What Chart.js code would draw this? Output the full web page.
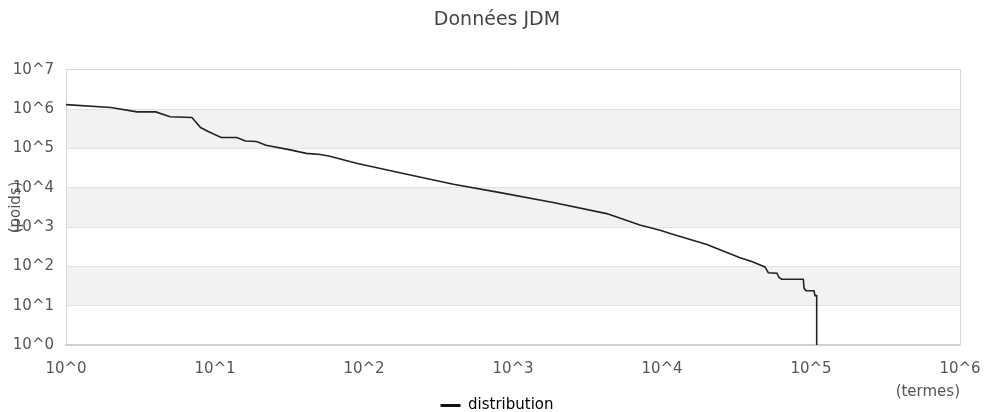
<!DOCTYPE html>
<html><head><meta charset="utf-8">
<script src="https://cdn.jsdelivr.net/npm/chart.js@4/dist/chart.umd.min.js"></script>
<style>html,body{margin:0;padding:0;background:#fff;}#wrap{width:986px;height:412px;position:relative;}</style>
</head><body><div id="wrap"><canvas id="c"></canvas></div>
<script>
const chartTitle = 'Données JDM';
const seriesName = 'distribution';
const xAxisTitle = '(termes)';
const yAxisTitle = '(poids)';
const xTickExponents = [0, 1, 2, 3, 4, 5, 6];
const yTickExponents = [0, 1, 2, 3, 4, 5, 6, 7];
const shadedBands = [[5, 6], [3, 4], [1, 2]];
const ranks = [1, 2, 3, 4, 5, 7, 8, 9, 11, 14, 16, 19, 22, 32, 41, 51, 59, 89, 174, 398, 820, 1860, 4250, 7100, 9700, 11800, 20000, 33400, 40000, 49100, 51700, 59100, 61000, 63500, 88800, 89800, 92500, 104700, 106400, 109200, 109200];
const weights = [1.3e6, 1.1e6, 8.5e5, 8.5e5, 6.4e5, 6.1e5, 3.4e5, 2.7e5, 1.9e5, 1.9e5, 1.55e5, 1.5e5, 1.2e5, 9.2e4, 7.5e4, 7.0e4, 6.3e4, 4.2e4, 2.4e4, 1.23e4, 7.5e3, 4.2e3, 2.2e3, 1130, 830, 655, 360, 165, 133, 97, 69, 67, 52, 47, 47, 28, 24, 24, 18, 18, 1];

const points = ranks.map((r, i) => ({x: r, y: weights[i]}));
const pow = e => Math.pow(10, e);
const fmt = v => '10^' + Math.round(Math.log10(v));

Chart.defaults.font.family = "'DejaVu Sans', sans-serif";
Chart.defaults.font.size = 15;
Chart.defaults.color = '#555';

const bandPlugin = {
  id: 'bands',
  beforeDraw(chart) {
    const {ctx, chartArea: a, scales: {y}} = chart;
    ctx.save();
    ctx.fillStyle = '#f2f2f2';
    shadedBands.forEach(([lo, hi]) => {
      const y1 = y.getPixelForValue(pow(hi));
      const y2 = y.getPixelForValue(pow(lo));
      ctx.fillRect(a.left, y1, a.right - a.left, y2 - y1);
    });
    ctx.restore();
  }
};

new Chart(document.getElementById('c'), {
  type: 'line',
  data: {
    datasets: [{
      label: seriesName,
      data: points,
      borderColor: '#222',
      backgroundColor: '#222',
      borderWidth: 1.6,
      pointRadius: 0,
      tension: 0,
      fill: false
    }]
  },
  options: {
    responsive: true,
    maintainAspectRatio: false,
    animation: false,
    layout: {padding: {left: 8, right: 0, top: 0, bottom: -11}},
    scales: {
      x: {
        type: 'logarithmic',
        min: pow(xTickExponents[0]),
        max: pow(xTickExponents[xTickExponents.length - 1]),
        afterBuildTicks: s => { s.ticks = xTickExponents.map(e => ({value: pow(e)})); },
        afterFit: s => { s.height = 51; s.paddingRight = 0; s.paddingLeft = 0; },
        ticks: {callback: v => fmt(v), maxRotation: 0, autoSkip: false, padding: 15, color: '#555'},
        grid: {display: false, drawTicks: false},
        border: {display: true, color: '#d0d0d0', width: 2},
        title: {display: true, text: xAxisTitle, align: 'end', color: '#555', font: {size: 15}, padding: {top: 0, bottom: -5}}
      },
      y: {
        type: 'logarithmic',
        min: pow(yTickExponents[0]),
        max: pow(yTickExponents[yTickExponents.length - 1]),
        afterBuildTicks: s => { s.ticks = yTickExponents.map(e => ({value: pow(e)})); },
        afterFit: s => { s.width = 58; },
        ticks: {callback: v => fmt(v), autoSkip: false, padding: 12, color: '#555'},
        grid: {color: '#e2e2e2', drawTicks: false, lineWidth: 1},
        border: {display: true, color: '#d8d8d8'},
        title: {display: true, text: yAxisTitle, color: '#555', font: {size: 15}, padding: {top: -1, bottom: 0}}
      },
      x2: {
        type: 'linear', position: 'top', display: true,
        ticks: {display: false}, grid: {display: false, drawTicks: false},
        border: {display: true, color: '#d8d8d8'},
        afterFit: s => { s.height = 0; }
      },
      y2: {
        type: 'linear', position: 'right', display: true,
        ticks: {display: false}, grid: {display: false, drawTicks: false},
        border: {display: true, color: '#d8d8d8'},
        afterFit: s => { s.width = 26; }
      }
    },
    plugins: {
      title: {display: true, text: chartTitle, color: '#444', font: {size: 19, weight: 'normal'}, padding: {top: 9, bottom: 38}},
      legend: {
        position: 'bottom',
        labels: {
          usePointStyle: true, pointStyle: 'line', pointStyleWidth: 20, padding: 2, color: '#444',
          generateLabels: chart => chart.data.datasets.map((d, i) => ({
            text: d.label, strokeStyle: '#111', fillStyle: '#111', lineWidth: 3, pointStyle: 'line', datasetIndex: i, hidden: false
          }))
        }
      },
      tooltip: {enabled: false}
    }
  },
  plugins: [bandPlugin]
});
</script>
</body></html>
